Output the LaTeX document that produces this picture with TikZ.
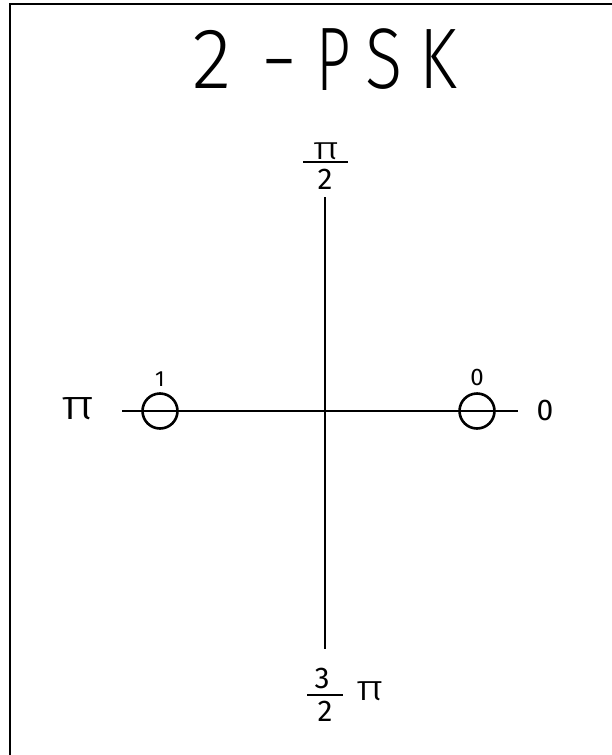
\documentclass[tikz,border=0pt]{standalone}
\usepackage{fontspec}
\setmainfont{Fira Sans}[UprightFont={* Light}]
\newfontfamily\regfont{Fira Sans}
\begin{document}
\begin{tikzpicture}[x=1pt,y=-1pt,
  axis/.style={line width=2.6pt},
  bar/.style={line width=2.2pt},
  pt/.style={circle,draw,line width=2.6pt,minimum size=35pt,inner sep=0pt},
  ttl/.style={font=\fontsize{86}{86}\selectfont,inner sep=0pt,anchor=base},
  lbl/.style={font=\regfont\fontsize{24}{24}\selectfont,inner sep=0pt},
  big/.style={font=\regfont\fontsize{30}{30}\selectfont,inner sep=0pt}]
\useasboundingbox (0,0) rectangle (612,755);
\fill[white] (0,0) rectangle (612,755);
% frame (top and left only)
\draw[line width=2pt] (10,755) -- (10,4) -- (612,4);
% title
\node[ttl] (t1) at (212,88) {\scalebox{0.95}[1]{2}};
\node[ttl] (t2) at (279,88) {\scalebox{1.1}[1]{-}};
\node[ttl] (t3) at (334,90) {\scalebox{0.7}[1.05]{P}};
\node[ttl] (t4) at (384,88) {\scalebox{0.8}[1]{S}};
\node[ttl] (t5) at (438,88) {\scalebox{0.8}[1]{K}};
% axes
\coordinate (xl) at (122,411);
\coordinate (xr) at (518,411);
\coordinate (yt) at (325,197);
\coordinate (yb) at (325,649);
\draw[axis] (xl) -- (xr);
\draw[axis] (yt) -- (yb);
% constellation points
\node[pt] (p1) at (160,411) {};
\node[pt] (p0) at (477,411) {};
\node[lbl,font=\regfont\fontsize{22}{22}\selectfont] (l1) at (160,379) {1};
\node[lbl] (l0) at (477,377) {0};
% axis labels
\node[big] (lr) at (545,410) {0};
\node[inner sep=0pt,font=\fontsize{42}{42}\selectfont] (ll) at (78,409) {\scalebox{1.35}[1]{π}};
% top: pi over 2
\node[inner sep=0pt,font=\fontsize{32}{32}\selectfont] (ltn) at (326,151) {\scalebox{1.4}[1]{π}};
\coordinate (tbl) at (303,162);
\coordinate (tbr) at (348,162);
\draw[bar] (tbl) -- (tbr);
\node[big] (ltd) at (325,179) {2};
% bottom: 3 over 2 pi
\node[big] (lbn) at (322,678) {3};
\coordinate (bbl) at (307,695);
\coordinate (bbr) at (343,695);
\draw[bar] (bbl) -- (bbr);
\node[big] (lbd) at (325,711) {2};
\node[inner sep=0pt,font=\fontsize{36}{36}\selectfont] (lbp) at (370,691) {\scalebox{1.3}[1]{π}};
\end{tikzpicture}
\end{document}
